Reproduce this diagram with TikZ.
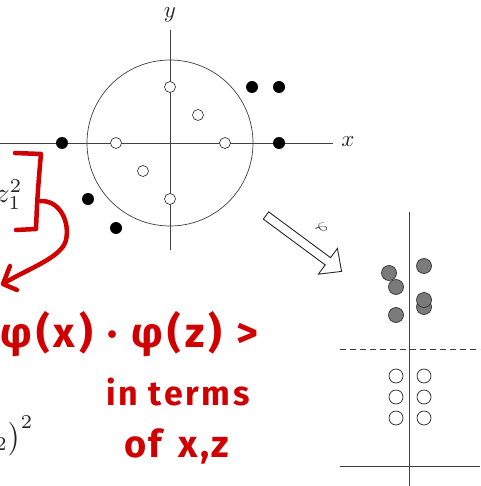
\documentclass[tikz,border=0pt]{standalone}
\usepackage{fontspec}
\newfontfamily\hand{Fira Sans}
\definecolor{inkred}{RGB}{208,0,0}
\begin{document}
\begin{tikzpicture}[x=1pt,y=-1pt,
  ax/.style={line width=0.7pt, draw=black!75},
  opendot/.style={circle, draw=black!85, line width=0.6pt, fill=white, minimum size=11pt, inner sep=0pt},
  fulldot/.style={circle, fill=black, minimum size=12pt, inner sep=0pt},
  graydot/.style={circle, draw=black!80, fill=black!52, line width=0.7pt, minimum size=15pt, inner sep=0pt},
  whitedot/.style={circle, draw=black!85, fill=white, line width=0.7pt, minimum size=14pt, inner sep=0pt},
  ink/.style={draw=inkred, line width=4.5pt, line cap=round, line join=round},
  handtxt/.style={text=inkred, inner sep=0pt},
  axlab/.style={inner sep=0pt, text=black!85, scale=2.3, transform shape},
  fragtxt/.style={inner sep=0pt, text=black!85, scale=2.8, transform shape}
]
\useasboundingbox (0,0) rectangle (480,486);

% ---- left plot ----
\coordinate (xl) at (0,143);
\coordinate (xr) at (333,143);
\coordinate (yt) at (170,30);
\coordinate (yb) at (170,250);
\draw[ax] (xl) -- (xr);
\draw[ax] (yt) -- (yb);
\draw[ax] (170,143) circle (83);
\node[axlab] (xlab) at (348,142) {$x$};
\node[axlab] (ylab) at (170,15) {$y$};

\node[opendot] (o1) at (170,87) {};
\node[opendot] (o2) at (198,115) {};
\node[opendot] (o3) at (116,143) {};
\node[opendot] (o4) at (225,143) {};
\node[opendot] (o5) at (143,171) {};
\node[opendot] (o6) at (170,199) {};

\node[fulldot] (f1) at (252,87) {};
\node[fulldot] (f2) at (279,87) {};
\node[fulldot] (f3) at (279,143) {};
\node[fulldot] (f4) at (62,143) {};
\node[fulldot] (f5) at (88,199) {};
\node[fulldot] (f6) at (116,228) {};

% ---- fragments of formulas ----
\node[fragtxt, anchor=east] (z1) at (23,195) {$z_1^2$};
\node[fragtxt, anchor=east] (z2) at (34,436) {${}_2\big)^2$};

% ---- block arrow ----
\begin{scope}[shift={(266,215.5)}, rotate=-36.5]
  \draw[line width=0.9pt, draw=black!85, fill=white, line join=miter]
    (0,-4.5) -- (77,-4.5) -- (77,-16) -- (94,0) -- (77,16) -- (77,4.5) -- (0,4.5) -- cycle;
\end{scope}
\node[rotate=-60, text=black!80, scale=1.6, transform shape] (phi) at (321,228) {$\varphi$};

% ---- right plot ----
\coordinate (rvt) at (409,212);
\coordinate (rvb) at (409,486);
\coordinate (rhl) at (340,466);
\coordinate (rhr) at (480,466);
\coordinate (rdl) at (340,349);
\coordinate (rdr) at (480,349);
\draw[ax] (rvt) -- (rvb);
\draw[ax] (rhl) -- (rhr);
\draw[ax, dash pattern=on 6pt off 4pt] (rdl) -- (rdr);

\node[graydot] (g1) at (389,273) {};
\node[graydot] (g2) at (396,287) {};
\node[graydot] (g3) at (396,315) {};
\node[graydot] (g4) at (424,266) {};
\node[graydot] (g5) at (424,307) {};
\node[graydot] (g6) at (424,300) {};

\node[whitedot] (w1) at (396,376) {};
\node[whitedot] (w2) at (396,397) {};
\node[whitedot] (w3) at (396,418) {};
\node[whitedot] (w4) at (424,376) {};
\node[whitedot] (w5) at (424,397) {};
\node[whitedot] (w6) at (424,418) {};

% ---- red handwriting ----
\draw[ink] (15,153) -- (41,154) .. controls (39,175) and (38,190) .. (37,205) -- (36,229) -- (16,230);
\draw[ink] (40,201) .. controls (60,200) and (70,222) .. (66,240) .. controls (62,257) and (30,268) .. (6,282);
\draw[ink] (10,266) -- (3,284) -- (17,290);

\node[handtxt, anchor=base west, font=\hand\bfseries\fontsize{42}{48}\selectfont\addfontfeature{LetterSpace=10}] (t1) at (0,347) {φ(x) · φ(z) >};
\node[handtxt, anchor=base west, font=\hand\bfseries\fontsize{34}{40}\selectfont\addfontfeature{LetterSpace=8}] (t2) at (106,405) {in terms};
\node[handtxt, anchor=base west, font=\hand\bfseries\fontsize{38}{44}\selectfont\addfontfeature{LetterSpace=6}] (t3) at (124,457) {of\hspace*{16pt}x,z};
\end{tikzpicture}
\end{document}
